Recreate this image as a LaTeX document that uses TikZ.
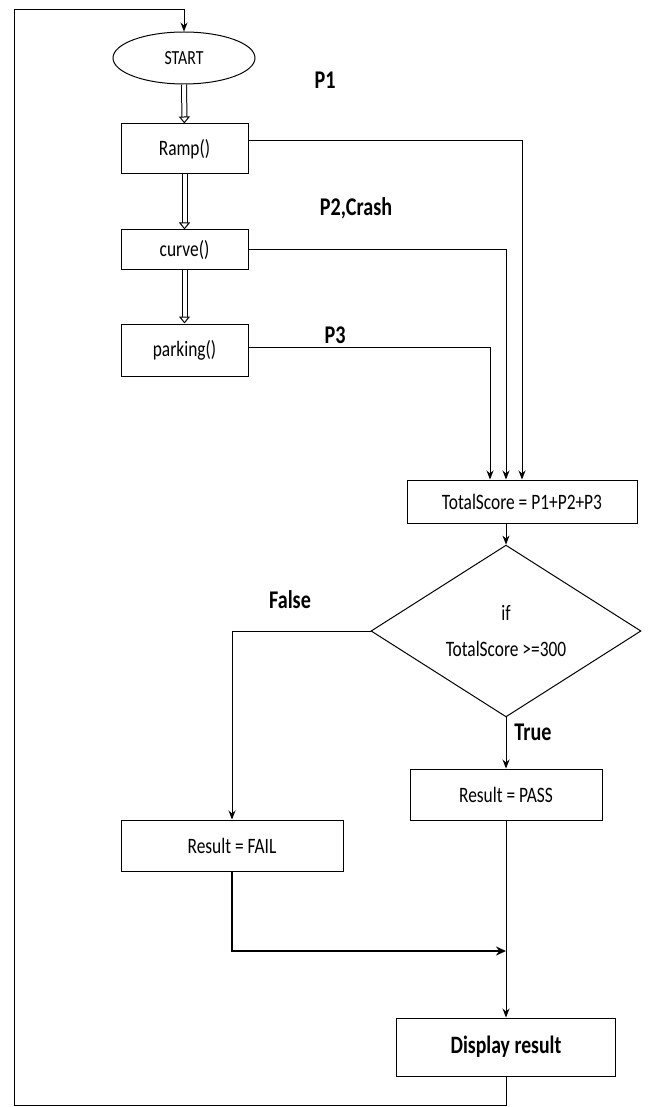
\documentclass[tikz,border=0pt]{standalone}
\usepackage{fontspec}
\setmainfont{Carlito}[FakeStretch=0.79]
\usetikzlibrary{shapes.geometric, positioning, arrows.meta}

\begin{document}
\begin{tikzpicture}[x=1pt, y=-1pt]
  \tikzset{
    stepbox/.style={
      draw,
      line width=1pt,
      anchor=center,
      font=\fontsize{22}{26}\selectfont,
      fill=white
    },
    oval/.style={
      draw,
      ellipse,
      line width=1pt,
      minimum width=142pt,
      minimum height=52pt,
      font=\fontsize{20}{24}\selectfont
    },
    decision/.style={
      draw,
      diamond,
      line width=1pt,
      inner sep=0pt,
      minimum width=270pt,
      minimum height=153pt,
      align=center,
      font=\fontsize{22}{26}\selectfont
    },
    tag/.style={
      font=\fontsize{25.5}{30}\selectfont\bfseries
    },
    flow/.style={
      line width=1pt,
      -{Stealth[length=9pt, width=7pt]}
    },
    heavy/.style={
      line width=2.4pt,
      -{Stealth[length=10pt, width=9pt]}
    },
    twin/.style={
      double,
      double distance=4pt,
      line width=1pt,
      -{Triangle[open, length=7pt, width=11pt]}
    }
  }
  \useasboundingbox (0,0) rectangle (648,1107);

  % Draw the stages
    \node[oval] at (184, 58) (start) {START};
    \node[stepbox, minimum width=127pt, minimum height=50pt] at (184.5, 149) (ramp) {Ramp()};
    \node[stepbox, minimum width=127pt, minimum height=39pt] at (184.5, 249.5) (curve) {curve()};
    \node[stepbox, minimum width=127pt, minimum height=52pt] at (184.5, 350) (parking) {parking()};

    \draw[twin] (start) -- (ramp);
    \draw[twin] (ramp) -- (curve);
    \draw[twin] (curve) -- (parking);

  % Sum of the points
    \node[stepbox, minimum width=230pt, minimum height=43pt] at (522, 501.5) (total) {TotalScore = P1+P2+P3};
    \node[tag] at (325, 80) (p1) {P1};
    \node[tag] at (356, 208) (p2) {P2,Crash};
    \node[tag] at (335, 335) (p3) {P3};

    \draw[flow] ([yshift=8pt]ramp.east) -| (total.north);
    \draw[flow] (curve.east) -| ([xshift=-16pt]total.north);
    \draw[flow] ([yshift=3pt]parking.east) -| ([xshift=-32pt]total.north);

  % Decision
    \node[decision] at (506, 631) (check) {if\\[10pt]TotalScore >=300};
    \draw[flow] ([xshift=-16pt]total.south) -- (check.north);

    \node[stepbox, minimum width=192pt, minimum height=51pt] at (506, 794.5) (pass) {Result = PASS};
    \node[stepbox, minimum width=222pt, minimum height=51pt] at (232, 845.5) (fail) {Result = FAIL};
    \node[tag] at (533, 732) (yes) {True};
    \node[tag] at (290, 600) (no) {False};

    \draw[flow] (check.south) -- (pass.north);
    \draw[flow] (check.west) -| (fail.north);

  % Display and loop back
    \node[stepbox, minimum width=219pt, minimum height=58pt, font=\fontsize{25}{30}\selectfont\bfseries] at (506, 1047) (display) {Display result};
    \coordinate (merge) at (506, 951);
    \coordinate (corner) at (14, 1105);
    \coordinate (topleft) at (14, 10);

    \draw[flow] (pass.south) -- (display.north);
    \draw[heavy] (fail.south) |- (merge);
    \draw[flow] (display.south) |- (corner) -- (topleft) -| (start.north);

\end{tikzpicture}
\end{document}
